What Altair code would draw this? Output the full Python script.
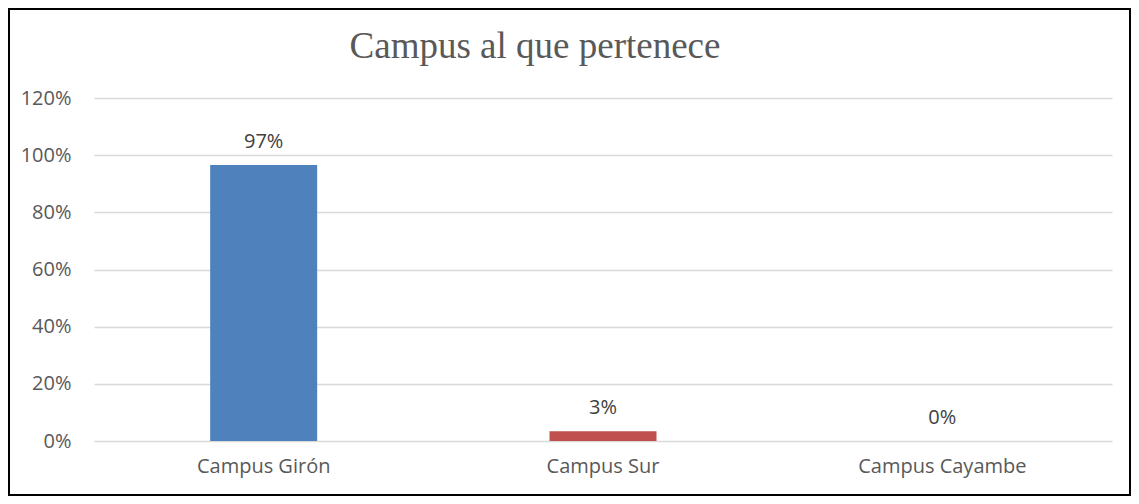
import altair as alt
import pandas as pd

categories = ["Campus Girón", "Campus Sur", "Campus Cayambe"]
values = [0.9655, 0.0345, 0.0]
bar_colors = ["#4F81BD", "#C0504D", "#9BBB59"]
y_ticks = [0, 0.2, 0.4, 0.6, 0.8, 1.0, 1.2]
title_text = "Campus al que pertenece"

df = pd.DataFrame({"campus": categories, "value": values})

W, H = 1018, 343

x_enc = alt.X("campus:N", sort=categories,
              scale=alt.Scale(paddingInner=0, paddingOuter=0),
              axis=alt.Axis(title=None, labelAngle=0, ticks=False, domain=False,
                            grid=False,
                            labelFont="Open Sans", labelFontSize=20,
                            labelColor="#595959", labelPadding=15))
y_enc = alt.Y("value:Q",
              scale=alt.Scale(domain=[0, 1.2], nice=False),
              axis=alt.Axis(title=None, values=y_ticks, format=".0%", ticks=False,
                            domain=False, grid=True, gridColor="#D9D9D9",
                            gridWidth=1.3, labelFont="Open Sans", labelFontSize=20,
                            labelColor="#595959", labelPadding=23))

base = alt.Chart(df)

bars = base.mark_bar(size=107).encode(
    x=x_enc,
    y=y_enc,
    color=alt.Color("campus:N", scale=alt.Scale(domain=categories, range=bar_colors),
                    legend=None),
)

labels = base.mark_text(font="Open Sans", fontSize=20, color="#404040",
                        baseline="alphabetic", dy=-17).encode(
    x=alt.X("campus:N", sort=categories),
    y="value:Q",
    text=alt.Text("value:Q", format=".0%"),
)

title = alt.Chart(pd.DataFrame({"t": [title_text]})).mark_text(
    font="Liberation Serif", fontSize=37, color="#595959",
    baseline="alphabetic", align="center").encode(
    text="t:N", x=alt.value(441), y=alt.value(-40))

frame = alt.Chart(pd.DataFrame({"t": [0]})).mark_rect(
    fill=None, stroke="#000000", strokeWidth=2, fillOpacity=0).encode(
    x=alt.value(-85), x2=alt.value(1036), y=alt.value(-89), y2=alt.value(397))

chart = alt.layer(frame, bars, labels, title).properties(
    width=W, height=H,
    background="white",
    autosize=alt.AutoSizeParams(type="none"),
    padding={"left": 86, "top": 90, "right": 19, "bottom": 55},
).configure_view(stroke=None, strokeWidth=0)

chart.save("out.html", embed_options={"renderer": "svg", "actions": False})
